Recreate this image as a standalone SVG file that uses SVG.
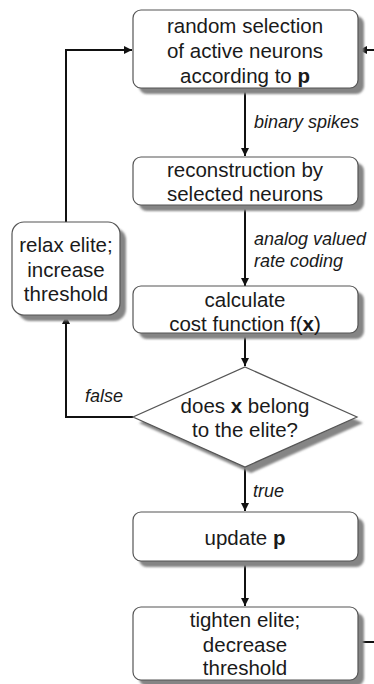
<svg xmlns="http://www.w3.org/2000/svg" width="374" height="684" viewBox="0 0 374 684">
<style>
.box{fill:#fff;stroke:#555;stroke-width:1.2}
.sh{fill:#858585}
.t{font-family:"Liberation Sans",Arial,sans-serif;font-size:20.5px;fill:#1a1a1a;text-anchor:middle}
.l{font-family:"Liberation Sans",Arial,sans-serif;font-size:18px;font-style:italic;fill:#1a1a1a}
.c{fill:none;stroke:#111;stroke-width:2;marker-end:url(#ah)}
</style>
<defs>
<filter id="blur" x="-10%" y="-10%" width="120%" height="130%"><feGaussianBlur stdDeviation="0.8"/></filter>
<marker id="ah" viewBox="0 0 10 10" refX="10" refY="5" markerWidth="4" markerHeight="4" orient="auto" markerUnits="strokeWidth"><path d="M0,0 L10,5 L0,10 z" fill="#111"/></marker>
</defs>
<rect width="374" height="684" fill="#fff"/>
<g id="connectors">
<path class="c" d="M245,89 V156"/>
<path class="c" d="M245,205 V286"/>
<path class="c" d="M245,334 V366"/>
<path class="c" d="M245,467 V511"/>
<path class="c" d="M245,561 V606"/>
<path class="c" d="M133,417 H66 V316"/>
<path class="c" d="M66,222 V50 H132"/>
<path class="c" d="M358,642 H384 V50 H359"/>
</g>
<g id="node1">
<rect class="sh" filter="url(#blur)" x="139" y="16" width="225" height="78" rx="8"/>
<rect class="box" x="133" y="10" width="225" height="78" rx="8"/>
<text class="t" x="245" y="33">random selection</text>
<text class="t" x="245" y="58">of active neurons</text>
<text class="t" x="245" y="83">according to <tspan font-weight="bold">p</tspan></text>
</g>
<g id="label-binary">
<text class="l" x="254" y="128">binary spikes</text>
</g>
<g id="node2">
<rect class="sh" filter="url(#blur)" x="139" y="163" width="225" height="48" rx="8"/>
<rect class="box" x="133" y="157" width="225" height="48" rx="8"/>
<text class="t" x="245" y="177">reconstruction by</text>
<text class="t" x="245" y="201">selected neurons</text>
</g>
<g id="label-analog">
<text class="l" x="254" y="245">analog valued</text>
<text class="l" x="254" y="267">rate coding</text>
</g>
<g id="node-relax">
<rect class="sh" filter="url(#blur)" x="18" y="228" width="108" height="93" rx="12"/>
<rect class="box" x="12" y="222" width="108" height="93" rx="12"/>
<text class="t" x="66" y="252">relax elite;</text>
<text class="t" x="66" y="277">increase</text>
<text class="t" x="66" y="301">threshold</text>
</g>
<g id="node3">
<rect class="sh" filter="url(#blur)" x="139" y="292" width="225" height="47" rx="8"/>
<rect class="box" x="133" y="286" width="225" height="47" rx="8"/>
<text class="t" x="245" y="307">calculate</text>
<text class="t" x="245" y="331">cost function f(<tspan font-weight="bold">x</tspan>)</text>
</g>
<g id="node-diamond">
<polygon class="sh" filter="url(#blur)" points="251,373 363,423 251,473 139,423"/>
<polygon class="box" points="245,367 357,417 245,467 133,417"/>
<text class="t" x="245" y="413">does <tspan font-weight="bold">x</tspan> belong</text>
<text class="t" x="245" y="437">to the elite?</text>
</g>
<g id="label-false">
<text class="l" x="85" y="402">false</text>
</g>
<g id="label-true">
<text class="l" x="253" y="497">true</text>
</g>
<g id="node4">
<rect class="sh" filter="url(#blur)" x="139" y="518" width="225" height="49" rx="8"/>
<rect class="box" x="133" y="512" width="225" height="49" rx="8"/>
<text class="t" x="245" y="545">update <tspan font-weight="bold">p</tspan></text>
</g>
<g id="node5">
<rect class="sh" filter="url(#blur)" x="139" y="613" width="225" height="73" rx="8"/>
<rect class="box" x="133" y="607" width="225" height="73" rx="8"/>
<text class="t" x="245" y="627">tighten elite;</text>
<text class="t" x="245" y="652">decrease</text>
<text class="t" x="245" y="675">threshold</text>
</g>
</svg>
